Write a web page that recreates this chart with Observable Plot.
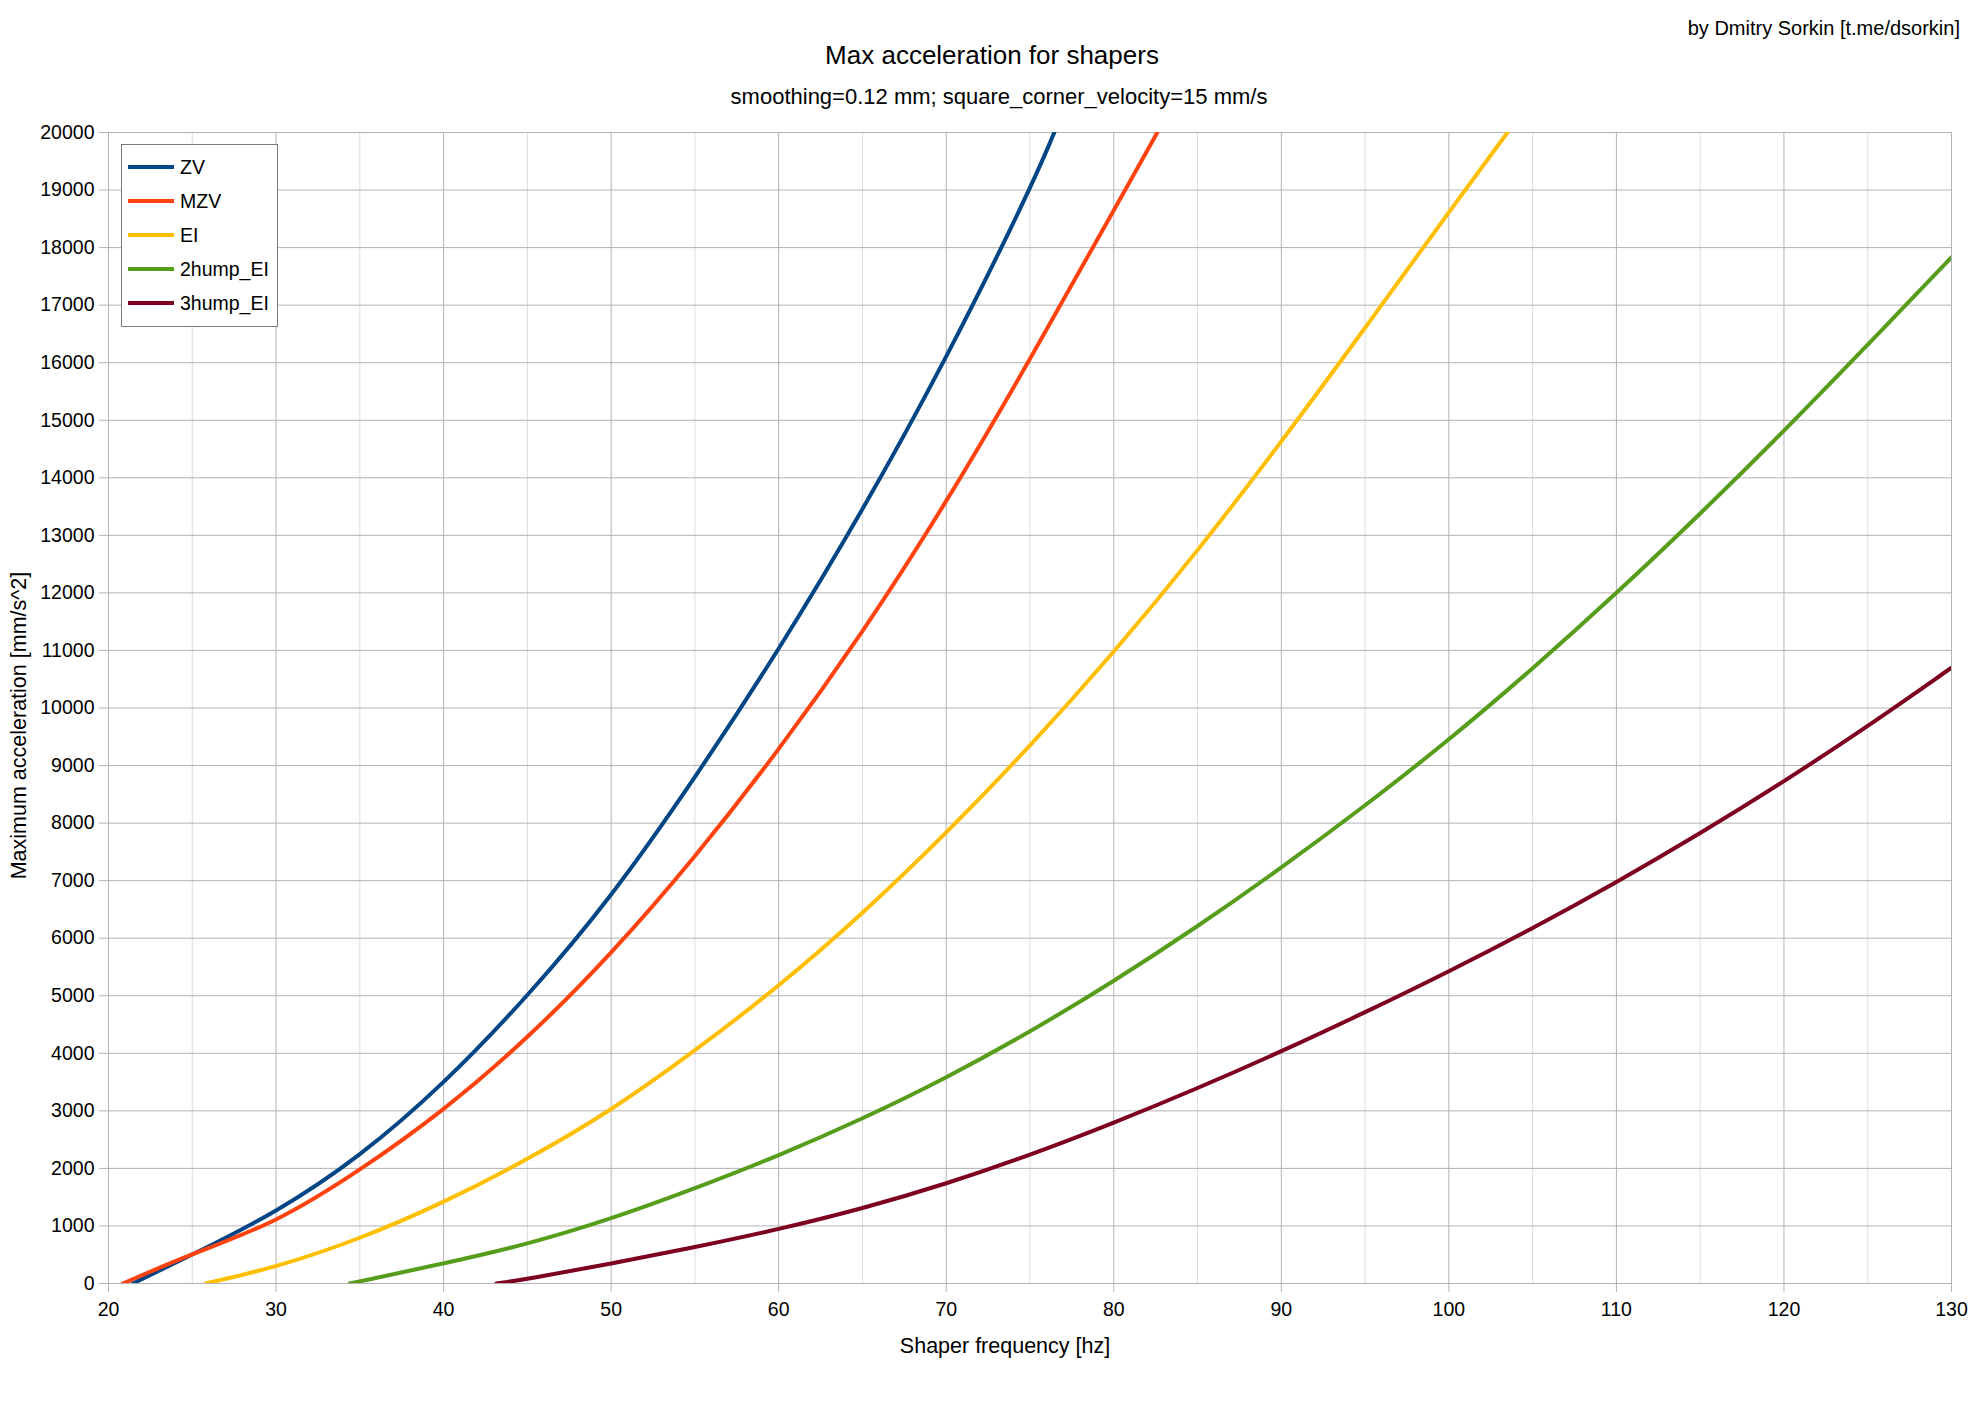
<!DOCTYPE html>
<html>
<head>
<meta charset="utf-8">
<script src="https://cdn.jsdelivr.net/npm/d3@7"></script>
<script src="https://cdn.jsdelivr.net/npm/@observablehq/plot@0.6"></script>
<style>
  body { margin: 0; background: #fff; font-family: "Liberation Sans", Arial, sans-serif; }
  #wrap { position: relative; width: 1984px; height: 1403px; overflow: hidden; }
  #header { position: relative; height: 110px; }
  .t { position: absolute; white-space: nowrap; line-height: 1; color: #000; }
  .credit { font-size: 20px; right: 24px; top: 18px; }
  .title { font-size: 26px; left: 992px; top: 42px; transform: translateX(-50%); }
  .subtitle { font-size: 22px; left: 999px; top: 86px; transform: translateX(-50%); }
  #legend { position: absolute; left: 121px; top: 144px; width: 155px; height: 181px;
            border: 1px solid #7a7a7a; background: #fff; }
  .sw { position: absolute; left: 6px; width: 46px; height: 4px; }
  .lt { position: absolute; left: 58px; font-size: 19.5px; line-height: 1; white-space: nowrap; }
</style>
</head>
<body>
<div id="wrap">
  <div id="header">
    <div class="t credit">by Dmitry Sorkin [t.me/dsorkin]</div>
    <div class="t title">Max acceleration for shapers</div>
    <div class="t subtitle">smoothing=0.12 mm; square_corner_velocity=15 mm/s</div>
  </div>
  <div id="chart"></div>
  <div id="legend"></div>
</div>
<script>
// ---- data ----
const seriesNames = ["ZV", "MZV", "EI", "2hump_EI", "3hump_EI"];
const seriesColors = ["#004586", "#ff420e", "#ffbf00", "#579d1c", "#7e0021"];

const freqZV = [21.45, 25, 30, 35, 40, 45, 50, 55, 60, 65, 70, 75, 76.45];
const accZV  = [0, 500, 1230, 2200, 3460, 4980, 6700, 8780, 11000, 13420, 16060, 19000, 20000];

const freqMZV = [20.85, 25, 30, 35, 40, 45, 50, 55, 60, 65, 70, 75, 80, 82.6];
const accMZV  = [0, 520, 1050, 1960, 3000, 4250, 5720, 7400, 9260, 11300, 13560, 16050, 18650, 20000];

const freqEI = [25.8, 30, 35, 40, 45, 50, 55, 60, 65, 70, 75, 80, 85, 90, 95, 100, 103.5];
const accEI  = [0, 281, 771, 1404, 2150, 3000, 4040, 5160, 6420, 7820, 9330, 10960, 12720, 14620, 16600, 18620, 20000];

const freq2H = [34.4, 40, 45, 50, 55, 60, 65, 70, 75, 80, 85, 90, 95, 100, 105, 110, 115, 120, 125, 130];
const acc2H  = [0, 346, 680, 1120, 1650, 2220, 2860, 3570, 4370, 5250, 6200, 7220, 8300, 9440, 10680, 11990, 13370, 14810, 16310, 17830];

const freq3H = [43.15, 45, 50, 55, 60, 65, 70, 75, 80, 85, 90, 95, 100, 105, 110, 115, 120, 125, 130];
const acc3H  = [0, 75, 346, 630, 940, 1300, 1730, 2230, 2790, 3390, 4030, 4710, 5420, 6170, 6970, 7820, 8720, 9680, 10700];

const xMajorTicks = [20, 30, 40, 50, 60, 70, 80, 90, 100, 110, 120, 130];
const xMinorTicks = [25, 35, 45, 55, 65, 75, 85, 95, 105, 115, 125];
const yTicks = [0, 1000, 2000, 3000, 4000, 5000, 6000, 7000, 8000, 9000, 10000,
                11000, 12000, 13000, 14000, 15000, 16000, 17000, 18000, 19000, 20000];

const xTitle = "Shaper frequency [hz]";
const yTitle = "Maximum acceleration [mm/s^2]";

// ---- build table ----
const freqs = [freqZV, freqMZV, freqEI, freq2H, freq3H];
const accs = [accZV, accMZV, accEI, acc2H, acc3H];
const rows = [];
seriesNames.forEach((name, i) => {
  freqs[i].forEach((f, j) => rows.push({series: name, f, a: accs[i][j]}));
});

const grid = "#b3b3b3";
const chart = Plot.plot({
  width: 1984,
  height: 1293,
  marginLeft: 108,
  marginRight: 33,
  marginTop: 22,
  marginBottom: 120,
  style: {fontFamily: "Liberation Sans, Arial, sans-serif", fontSize: "19.5px", background: "#fff", color: "#000"},
  x: {domain: [20, 130], label: null},
  y: {domain: [0, 20000], label: null},
  color: {domain: seriesNames, range: seriesColors},
  marks: [
    Plot.gridX(xMinorTicks, {stroke: "#dcdcdc", strokeOpacity: 1, strokeWidth: 1}),
    Plot.gridX(xMajorTicks, {stroke: grid, strokeOpacity: 1, strokeWidth: 1}),
    Plot.gridY(yTicks, {stroke: grid, strokeOpacity: 1, strokeWidth: 1}),
    Plot.axisX(xMajorTicks, {tickSize: 9, tickPadding: 10, stroke: grid, fill: "#000",
      fontSize: 19.5, tickFormat: d => `${d}`, label: null}),
    Plot.axisY(yTicks, {tickSize: 9, tickPadding: 5, stroke: grid, fill: "#000",
      fontSize: 19.5, tickFormat: d => `${d}`, label: null}),
    Plot.line(rows, {x: "f", y: "a", z: "series", stroke: "series", strokeWidth: 4,
      curve: "basis", clip: true}),
    Plot.text([xTitle], {text: d => d, frameAnchor: "bottom", dx: -25, dy: 63,
      fontSize: 21.5, fill: "#000", textAnchor: "middle", lineAnchor: "middle"}),
    Plot.text([yTitle], {text: d => d, frameAnchor: "left", rotate: -90, dx: -89, dy: 17.5,
      fontSize: 21.5, fill: "#000", textAnchor: "middle", lineAnchor: "middle"})
  ]
});
document.getElementById("chart").appendChild(chart);

// ---- legend ----
const legend = document.getElementById("legend");
seriesNames.forEach((name, i) => {
  const cy = 22 + i * 34;
  const sw = document.createElement("div");
  sw.className = "sw";
  sw.style.top = (cy - 2) + "px";
  sw.style.background = seriesColors[i];
  legend.appendChild(sw);
  const lt = document.createElement("div");
  lt.className = "lt";
  lt.style.top = (cy - 9.5) + "px";
  lt.textContent = name;
  legend.appendChild(lt);
});
</script>
</body>
</html>
